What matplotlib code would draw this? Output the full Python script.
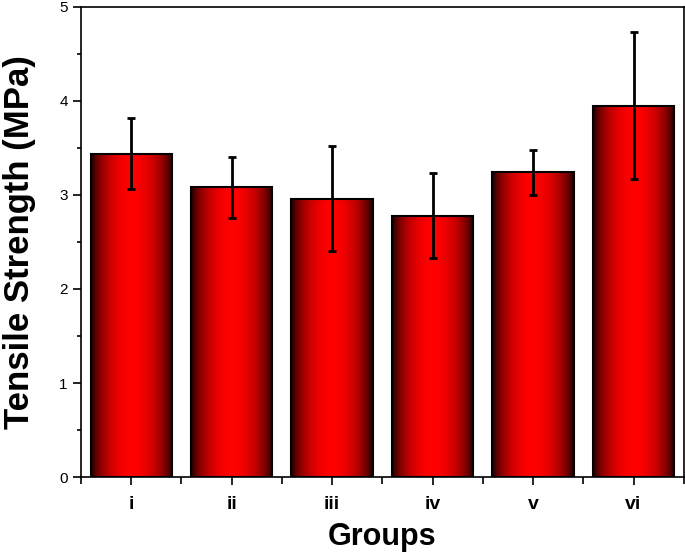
import numpy as np
import matplotlib
matplotlib.use("Agg")
import matplotlib.pyplot as plt
from matplotlib.ticker import MultipleLocator

groups = ["i", "ii", "iii", "iv", "v", "vi"]
strength = [3.44, 3.08, 2.96, 2.78, 3.24, 3.95]
strength_err = [0.38, 0.32, 0.56, 0.45, 0.24, 0.78]

plt.rcParams['font.family'] = ['Liberation Sans', 'DejaVu Sans']

fig = plt.figure(figsize=(6.85, 5.53), dpi=100)
ax = fig.add_axes([0.1182, 0.1374, 0.880, 0.850])

# black -> red -> black across each bar
t = np.linspace(0, 1, 256)
shade = np.sin(np.pi * t) ** 0.6
grad = np.zeros((1, 256, 3))
grad[0, :, 0] = shade

x = np.arange(len(groups))
width = 0.81
bars = ax.bar(x, strength, width, facecolor='none', edgecolor='black',
              linewidth=1.5, zorder=3)
for b in bars:
    x0 = b.get_x()
    ax.imshow(grad, extent=[x0, x0 + b.get_width(), 0, b.get_height()],
              aspect='auto', interpolation='bilinear', zorder=2)

ax.errorbar(x, strength, yerr=strength_err, fmt='none', ecolor='black',
            elinewidth=2, capsize=3, capthick=2, zorder=4)

ax.set_xlim(-0.5, len(groups) - 0.5)
ax.set_ylim(0, 5)
ax.set_aspect('auto')

ax.set_xticks(x)
ax.set_xticklabels(groups, fontsize=14, fontweight='bold')
ax.xaxis.set_minor_locator(MultipleLocator(1, offset=0.5))
ax.yaxis.set_major_locator(MultipleLocator(1))
ax.yaxis.set_minor_locator(MultipleLocator(0.5))
ax.tick_params(axis='y', labelsize=11)
ax.tick_params(which='major', direction='out', length=6, width=1.2)
ax.tick_params(which='minor', direction='out', length=3, width=1.2)
ax.tick_params(axis='x', which='major', pad=8)
ax.tick_params(axis='x', which='minor', length=5)

for s in ax.spines.values():
    s.set_linewidth(1.2)

ax.set_xlabel('Groups', fontsize=22, fontweight='bold', labelpad=6)
ax.set_ylabel('Tensile Strength (MPa)', fontsize=25, fontweight='bold', labelpad=17)

fig.savefig('out.png', dpi=100)
